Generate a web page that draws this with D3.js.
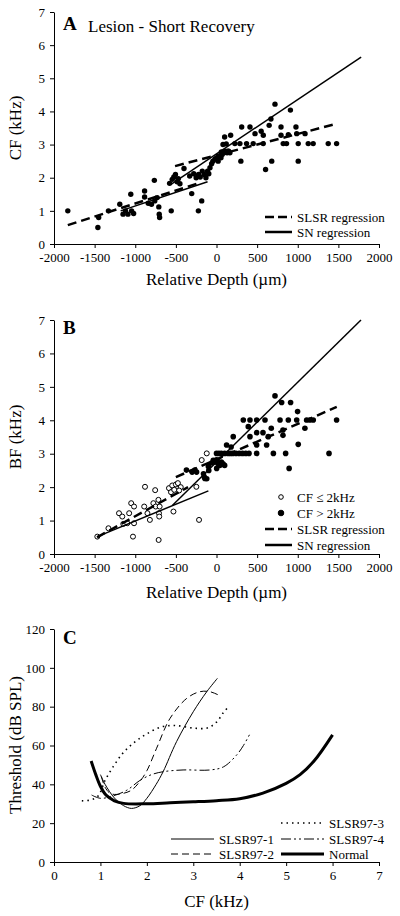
<!DOCTYPE html>
<html><head><meta charset="utf-8">
<script src="https://cdn.jsdelivr.net/npm/d3@7/dist/d3.min.js"></script>
<style>
body{margin:0;background:#fff;}
svg text{font-family:"Liberation Serif","Times New Roman",serif;fill:#000;}
</style></head>
<body>
<svg id="c" width="400" height="916"></svg>
<script>
// ---------- DATA ----------
const depthTicks = [-2000,-1500,-1000,-500,0,500,1000,1500,2000];
const freqTicks = [0,1,2,3,4,5,6,7];
const dbTicks = [0,20,40,60,80,100,120];

// Panel A: CF vs relative depth
const pointsA = [
 [-1830,1.0],[-1460,0.5],[-1450,0.8],[-1330,1.0],[-1190,1.2],[-1150,0.9],[-1120,1.0],[-1090,0.9],
 [-1055,1.5],[-1045,1.0],[-1020,0.92],[-885,1.6],[-885,1.42],[-840,1.23],[-800,1.2],[-765,1.92],
 [-760,1.3],[-730,1.4],[-710,1.12],[-705,0.9],[-700,0.8],[-557,1.0],[-577,1.83],[-545,1.95],
 [-525,2.02],[-505,2.1],[-485,1.88],[-470,1.97],[-450,1.82],[-400,2.28],[-305,1.52],[-223,1.0],
 [-182,1.3],[-330,2.05],[-280,2.12],[-250,2.0],[-220,2.1],[-200,2.02],[-175,2.2],[-150,2.1],
 [-130,2.0],[-110,2.2],[-95,2.12],[-80,2.3],[-60,2.42],[-45,2.5],[-20,2.56],[0,2.6],[20,2.5],
 [35,2.65],[55,2.6],[70,2.7],[90,2.75],[110,2.8],[130,2.75],[150,2.8],[165,2.75],
 [60,2.78],[100,2.78],[140,2.8],
 [300,2.5],[604,2.25],[680,2.5],[1006,2.5],
 [80,3.0],[120,3.02],[226,3.03],[288,3.03],[370,3.03],[452,3.03],[575,3.03],[821,3.03],[862,3.03],
 [1006,3.03],[1129,3.03],[1190,3.03],[1375,3.03],[1478,3.03],
 [100,3.23],[174,3.28],[474,3.33],[576,3.28],[794,3.28],[884,3.3],[987,3.33],[1090,3.33],
 [550,3.4],[310,3.53],[412,3.53],[648,3.58],[794,3.53],[978,3.53],[670,3.77],[720,4.22],[910,4.04]
];
// regression lines [x1,y1,x2,y2]
const slsrA = [[-1830,0.57,-200,1.85],[-510,2.35,1480,3.63]];
const snA = [[-1180,1.0,-110,1.88],[-560,1.8,1780,5.64]];

// Panel B: BF vs relative depth
const openB = [
 [-1467,0.52],[-1330,0.77],[-1200,1.22],[-1160,1.12],[-1147,0.9],[-1098,0.92],[-1075,1.22],
 [-1050,1.52],[-1015,1.42],[-1015,0.92],[-1028,0.52],[-880,2.01],[-890,1.42],[-850,1.22],
 [-820,1.02],[-777,1.52],[-755,1.91],[-748,1.42],[-715,1.62],[-700,1.42],[-708,1.22],
 [-705,1.12],[-712,0.42],[-585,1.97],[-560,1.85],[-545,2.05],[-520,1.92],[-500,2.08],
 [-475,2.12],[-440,2.0],[-460,1.9],[-530,1.27],[-248,2.01],[-215,1.02],[-182,2.81],[-120,3.01]
];
const filledB = [
 [-370,2.51],[-266,2.51],[-245,2.45],[-143,2.26],[-120,2.25],[-160,2.4],[-95,2.5],[-100,2.62],
 [-60,2.72],[-40,2.8],[-20,2.75],[2,2.56],[0,2.82],[20,2.7],[40,2.65],[60,2.75],[80,2.7],[100,2.65],
 [-150,2.3],[-300,2.45],
 [0,3.01],[30,3.01],[60,3.01],[100,3.01],[140,3.01],[170,3.01],[200,3.01],[240,3.01],[280,3.01],
 [320,3.01],[360,3.01],[400,3.01],[494,3.01],[700,3.01],[851,3.01],[1385,3.01],[894,2.56],
 [124,3.26],[180,3.2],[494,3.26],[617,3.26],[1006,3.28],
 [206,3.51],[412,3.51],[637,3.51],[818,3.55],
 [494,3.63],[572,3.63],[674,3.76],[818,3.71],[1088,3.76],[391,3.81],
 [330,4.01],[412,4.01],[494,4.01],[597,4.01],[782,4.01],[884,4.01],[987,4.01],[1110,4.01],
 [1150,4.01],[1191,4.01],[1478,4.01],
 [720,4.73],[802,4.53],[912,4.53],[998,4.26]
];
const slsrB = [[-1470,0.5,-350,2.0],[-500,2.3,1480,4.4]];
const snB = [[-1467,0.52,-100,1.89],[-544,1.45,1778,7.0]];

// Panel C: tuning-curve thresholds  [CF kHz, dB SPL]
const slsr97_1 = [[1.0,45],[1.1,40],[1.3,33],[1.5,29],[1.67,27.6],[1.85,29],[2.0,32.8],[2.2,40],
 [2.35,46.5],[2.64,62],[3.0,77.4],[3.29,87.7],[3.52,94.6]];
const slsr97_2 = [[1.02,44],[1.1,38.5],[1.2,35.5],[1.3,34.8],[1.5,35.4],[1.67,37],[1.85,41.5],
 [2.0,47],[2.21,58.6],[2.5,74],[2.86,84.3],[3.14,87.7],[3.36,87.7],[3.56,85.8]];
const slsr97_3 = [[0.6,31.5],[0.8,32],[0.95,34],[1.1,42],[1.3,50],[1.5,56.5],[1.75,62],[2.0,66],
 [2.3,69.5],[2.6,70.3],[3.0,69],[3.3,69],[3.5,72],[3.65,77],[3.78,80.5]];
const slsr97_4 = [[0.81,34.5],[1.0,32.8],[1.28,34.1],[1.57,37],[1.85,42],[2.1,45],[2.35,46.5],
 [2.78,47.4],[3.36,47.4],[3.65,49],[3.93,55],[4.08,60],[4.22,66]];
const normal = [[0.8,52],[0.9,45],[1.0,39],[1.1,35],[1.2,33],[1.3,31.5],[1.5,30.2],[2.0,30.0],
 [2.5,30.5],[3.0,31],[3.5,31.6],[4.0,32.6],[4.5,35.5],[5.0,40.5],[5.3,45],[5.6,52],[6.0,65.5]];

const legendA = ["SLSR regression","SN regression"];
const legendB = ["CF \u2264 2kHz","CF > 2kHz","SLSR regression","SN regression"];

// ---------- DRAW ----------
const svg = d3.select("#c");
const X0 = 54, X1 = 379;

function axes(g, x, y, xt, yt, xTitle, yTitle, yTitleY, xTitleY){
  const ax = g.append("g").attr("transform",`translate(0,${y.range()[0]})`)
    .call(d3.axisBottom(x).tickValues(xt).tickSize(4).tickSizeOuter(0).tickPadding(5).tickFormat(d=>String(d)));
  const ay = g.append("g").attr("transform",`translate(${X0},0)`)
    .call(d3.axisLeft(y).tickValues(yt).tickSize(4).tickSizeOuter(0).tickPadding(5).tickFormat(d=>String(d)));
  [ax,ay].forEach(a=>{
    a.selectAll("text").style("font-size","13px").style("font-family",'"Liberation Serif","Times New Roman",serif').attr("fill","#000");
    a.selectAll("line,path").attr("stroke","#000").attr("stroke-width",1);
  });
  g.append("text").attr("x",(X0+X1)/2).attr("y",xTitleY).attr("text-anchor","middle")
    .style("font-size","17px").text(xTitle);
  g.append("text").attr("transform",`translate(21,${yTitleY}) rotate(-90)`).attr("text-anchor","middle")
    .style("font-size","17px").text(yTitle);
}

function regLines(g, x, y, segs, dashed){
  g.selectAll(null).data(segs).enter().append("line")
    .attr("x1",d=>x(d[0])).attr("y1",d=>y(d[1])).attr("x2",d=>x(d[2])).attr("y2",d=>y(d[3]))
    .attr("stroke","#000").attr("stroke-width",dashed?2.5:1.5)
    .attr("stroke-dasharray",dashed?"9,5":null);
}

// Panel A
{
  const g = svg.append("g");
  const x = d3.scaleLinear().domain([-2000,2000]).range([X0,X1]);
  const y = d3.scaleLinear().domain([0,7]).range([244,12]);
  axes(g,x,y,depthTicks,freqTicks,"Relative Depth (\u00b5m)","CF (kHz)",128,285);
  g.selectAll(null).data(pointsA).enter().append("circle")
    .attr("cx",d=>x(d[0])).attr("cy",d=>y(d[1])).attr("r",2.7).attr("fill","#000");
  regLines(g,x,y,slsrA,true);
  regLines(g,x,y,snA,false);
  g.append("text").attr("x",63).attr("y",30).style("font-size","19px").style("font-weight","bold").text("A");
  g.append("text").attr("x",88).attr("y",32).style("font-size","17px").text("Lesion - Short Recovery");
  const ly = [217,232];
  legendA.forEach((t,i)=>{
    g.append("line").attr("x1",265).attr("x2",292).attr("y1",ly[i]).attr("y2",ly[i])
      .attr("stroke","#000").attr("stroke-width",2.5).attr("stroke-dasharray",i==0?"9,4":null);
    g.append("text").attr("x",297).attr("y",ly[i]+4.5).style("font-size","13px").text(t);
  });
}

// Panel B
{
  const g = svg.append("g");
  const x = d3.scaleLinear().domain([-2000,2000]).range([X0,X1]);
  const y = d3.scaleLinear().domain([0,7]).range([554,320]);
  axes(g,x,y,depthTicks,freqTicks,"Relative Depth (\u00b5m)","BF (kHz)",437,598);
  g.selectAll(null).data(filledB).enter().append("circle")
    .attr("cx",d=>x(d[0])).attr("cy",d=>y(d[1])).attr("r",2.8).attr("fill","#000");
  g.selectAll(null).data(openB).enter().append("circle")
    .attr("cx",d=>x(d[0])).attr("cy",d=>y(d[1])).attr("r",2.5).attr("fill","#fff")
    .attr("stroke","#000").attr("stroke-width",1);
  regLines(g,x,y,slsrB,true);
  regLines(g,x,y,snB,false);
  g.append("text").attr("x",63).attr("y",334).style("font-size","19px").style("font-weight","bold").text("B");
  const ly = [497,513,529,545];
  legendB.forEach((t,i)=>{
    if(i<2){
      g.append("circle").attr("cx",281).attr("cy",ly[i]).attr("r",i==0?2.3:2.8)
        .attr("fill",i==0?"#fff":"#000").attr("stroke","#000").attr("stroke-width",1);
    } else {
      g.append("line").attr("x1",265).attr("x2",292).attr("y1",ly[i]).attr("y2",ly[i])
        .attr("stroke","#000").attr("stroke-width",2.5).attr("stroke-dasharray",i==2?"9,4":null);
    }
    g.append("text").attr("x",297).attr("y",ly[i]+4.5).style("font-size","13px").text(t);
  });
}

// Panel C
{
  const g = svg.append("g");
  const x = d3.scaleLinear().domain([0,7]).range([X0,X1]);
  const y = d3.scaleLinear().domain([0,120]).range([862,629]);
  axes(g,x,y,freqTicks,dbTicks,"CF (kHz)","Threshold (dB SPL)",745,907);
  const line = d3.line().x(d=>x(d[0])).y(d=>y(d[1])).curve(d3.curveCatmullRom.alpha(0.5));
  const series = [
    {name:"SLSR97-1", data:slsr97_1, w:1, dash:null},
    {name:"SLSR97-2", data:slsr97_2, w:1, dash:"7,4"},
    {name:"SLSR97-3", data:slsr97_3, w:1.6, dash:"1.5,4"},
    {name:"SLSR97-4", data:slsr97_4, w:1, dash:"10,3,2,3,2,3"},
    {name:"Normal", data:normal, w:3, dash:null}
  ];
  series.forEach(s=>{
    g.append("path").datum(s.data).attr("d",line).attr("fill","none").attr("stroke","#000")
      .attr("stroke-width",s.w).attr("stroke-dasharray",s.dash);
  });
  g.append("text").attr("x",63).attr("y",644).style("font-size","19px").style("font-weight","bold").text("C");
  const pos = {"SLSR97-3":[281,823],"SLSR97-1":[171,839],"SLSR97-4":[281,839],"SLSR97-2":[171,854],"Normal":[281,854]};
  series.forEach(s=>{
    const [lx,ly] = pos[s.name];
    g.append("line").attr("x1",lx).attr("x2",lx+43).attr("y1",ly).attr("y2",ly)
      .attr("stroke","#000").attr("stroke-width",s.w).attr("stroke-dasharray",s.dash);
    g.append("text").attr("x",lx+48).attr("y",ly+4.5).style("font-size","13px").text(s.name);
  });
}
</script>
</body></html>
